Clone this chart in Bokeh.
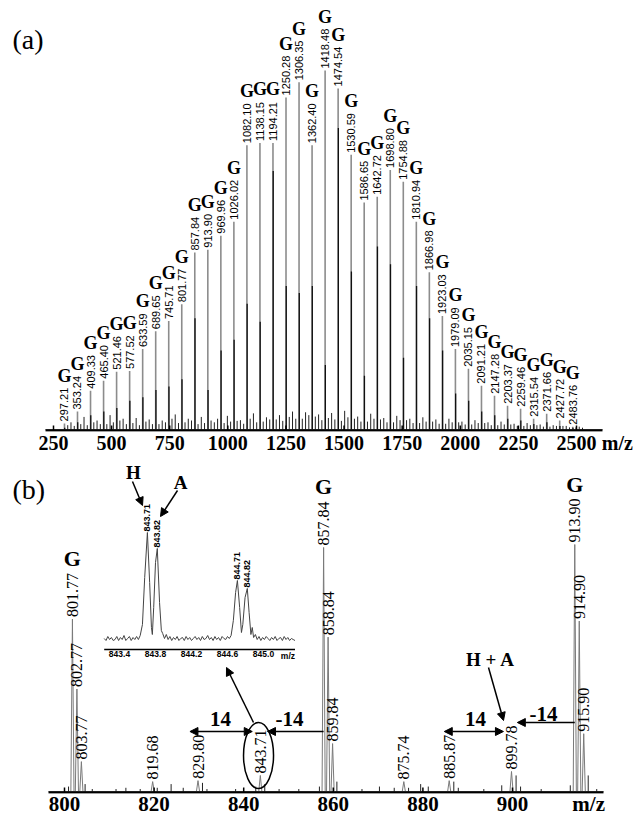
import numpy as np
from bokeh.plotting import figure
from bokeh.models import ColumnDataSource, FixedTicker, Range1d, Arrow, NormalHead
from bokeh.layouts import column
from bokeh.embed import file_html
from bokeh.resources import INLINE
from bokeh.core.properties import value

# ---------------- panel (a) data ----------------
a_mz = [297.21, 353.24, 409.33, 465.40, 521.46, 577.52, 633.59, 689.65, 745.71, 801.77,
        857.84, 913.90, 969.96, 1026.02, 1082.10, 1138.15, 1194.21, 1250.28, 1306.35, 1362.40,
        1418.48, 1474.54, 1530.59, 1586.65, 1642.72, 1698.80, 1754.88, 1810.94, 1866.98, 1923.03,
        1979.09, 2035.15, 2091.21, 2147.28, 2203.37, 2259.46, 2315.54, 2371.66, 2427.72, 2483.76]
a_labels = ["297.21", "353.24", "409.33", "465.40", "521.46", "577.52", "633.59", "689.65",
            "745.71", "801.77", "857.84", "913.90", "969.96", "1026.02", "1082.10", "1138.15",
            "1194.21", "1250.28", "1306.35", "1362.40", "1418.48", "1474.54", "1530.59",
            "1586.65", "1642.72", "1698.80", "1754.88", "1810.94", "1866.98", "1923.03",
            "1979.09", "2035.15", "2091.21", "2147.28", "2203.37", "2259.46", "2315.54",
            "2371.66", "2427.72", "2483.76"]
a_int = [1.7, 5.0, 10.8, 13.6, 16.1, 16.3, 22.4, 27.4, 30.2, 34.9,
         49.3, 50.1, 54.0, 57.9, 79.2, 79.8, 79.8, 92.5, 96.7, 79.2,
         100.0, 95.0, 76.5, 63.2, 64.8, 72.3, 69.0, 57.9, 43.8, 31.6,
         22.4, 16.9, 12.2, 9.4, 6.6, 5.8, 3.0, 4.4, 2.5, 0.8]
a_iso_mz = [298.2, 354.2, 410.3, 466.4, 522.5, 578.5, 634.6, 690.7, 746.7, 802.8,
            858.8, 914.9, 971.0, 1027.0, 1083.1, 1139.2, 1195.2, 1251.3, 1307.4, 1363.4,
            1419.5, 1475.5, 1531.6, 1587.7, 1643.7, 1699.8, 1755.9, 1811.9, 1868.0, 1924.0,
            1980.1, 2036.2, 2092.2, 2148.3, 2204.4, 2260.5, 2316.5, 2372.7, 2428.7, 2484.8]
a_iso_int = [0.5, 2.0, 4.0, 5.0, 6.0, 8.0, 9.0, 11.0, 12.0, 14.0,
             31.0, 11.0, 22.0, 25.0, 35.0, 30.0, 72.0, 40.0, 38.0, 40.0,
             18.0, 84.0, 44.0, 15.0, 51.0, 46.0, 20.0, 40.0, 31.0, 22.0,
             10.0, 8.0, 5.0, 4.0, 3.0, 2.5, 1.5, 2.0, 1.0, 0.5]
a_minor_mz = [311.2, 325.2, 339.3, 367.3, 381.3, 395.3, 423.4, 437.4, 451.4, 479.4, 493.4, 507.5,
              535.5, 549.5, 563.5, 591.5, 605.6, 619.6, 647.6, 661.6, 675.6, 703.7, 717.7, 731.7,
              759.7, 773.7, 787.8, 815.8, 829.8, 843.7, 871.9, 885.9, 899.8, 927.9, 941.9, 956.0,
              984.0, 998.0, 1012.0, 1040.0, 1054.1, 1068.1, 1096.1, 1110.1, 1124.2, 1152.2, 1166.2,
              1180.2, 1208.2, 1222.2, 1236.3, 1264.3, 1278.3, 1292.3, 1320.4, 1334.4, 1348.4,
              1376.4, 1390.4, 1404.5, 1432.5, 1446.5, 1460.5, 1488.6, 1502.6, 1516.6, 1544.6,
              1558.6, 1572.6, 1600.7, 1614.7, 1628.7, 1656.7, 1670.8, 1684.8, 1712.8, 1726.8,
              1740.9, 1768.9, 1782.9, 1796.9, 1825.0, 1839.0, 1853.0, 1881.0, 1895.0, 1909.0,
              1937.1, 1951.1, 1965.1, 1993.1, 2007.1, 2021.1, 2049.2, 2063.2, 2077.2, 2105.2,
              2119.2, 2133.3, 2161.3, 2175.3, 2189.3, 2217.4, 2231.4, 2245.4, 2273.5, 2287.5,
              2301.5, 2329.6, 2343.6, 2357.6, 2385.7, 2399.7, 2413.7, 2441.7, 2455.8, 2469.8,
              2497.8, 2511.8, 2525.8]
a_minor_int = [1.2, 2.0, 1.0, 1.5, 3.5, 1.2, 2.0, 2.5, 1.5, 1.5, 4.0, 2.0,
               2.5, 3.0, 1.5, 1.8, 3.2, 1.2, 2.2, 2.8, 1.5, 1.5, 2.5, 2.0,
               3.0, 4.2, 1.8, 2.0, 3.0, 2.5, 1.5, 3.5, 1.8, 2.5, 2.0, 3.0,
               1.8, 3.8, 2.2, 2.4, 2.6, 1.6, 3.0, 4.5, 2.0, 2.2, 3.4,
               2.8, 2.8, 4.0, 2.4, 3.5, 5.0, 3.0, 3.0, 4.8, 4.0,
               3.6, 4.2, 2.6, 3.2, 4.6, 2.8, 2.4, 5.2, 3.4, 3.0,
               3.6, 2.2, 2.2, 4.4, 3.0, 2.8, 3.2, 2.0, 2.0, 3.8,
               2.6, 2.6, 3.0, 1.8, 1.8, 3.4, 2.2, 2.2, 2.8, 1.6,
               1.6, 3.0, 2.0, 2.0, 2.2, 1.4, 1.4, 2.6, 1.8, 1.8,
               2.0, 1.2, 1.2, 2.2, 1.4, 1.4, 1.6, 1.0, 1.0, 1.8,
               1.2, 1.2, 1.4, 0.8, 0.8, 1.2, 1.0, 1.0, 1.0, 0.6,
               0.6, 0.8, 0.5]
a_ticks = [250, 500, 750, 1000, 1250, 1500, 1750, 2000, 2250, 2500]

# ---------------- panel (b) data ----------------
b_mz = [801.77, 802.77, 803.77, 819.68, 829.80, 843.71, 857.84, 858.84, 859.84,
        875.74, 885.87, 899.78, 913.90, 914.90, 915.90]
b_labels = ["801.77", "802.77", "803.77", "819.68", "829.80", "843.71", "857.84", "858.84",
            "859.84", "875.74", "885.87", "899.78", "913.90", "914.90", "915.90"]
b_int = [69.8, 41.5, 12.1, 4.0, 4.4, 6.5, 98.8, 62.5, 19.4, 4.0, 4.4, 8.1, 100.0, 69.0, 23.4]
b_g_mz = [801.77, 857.84, 913.90]
b_g_int = [69.8, 98.8, 100.0]
b_g_labels = ["801.77", "857.84", "913.90"]
b_minor_mz = [800.9, 804.6, 806.2, 811.5, 813.7, 816.9, 820.7, 823.8, 826.5, 830.8, 831.8,
              838.2, 842.7, 844.7, 847.9, 852.3, 856.9, 860.8, 866.4, 870.3, 873.6, 876.8,
              879.5, 881.2, 886.9, 887.9, 893.6, 897.6, 900.8, 901.8, 906.4, 912.9, 916.9, 918.8]
b_minor_int = [2.0, 3.0, 1.0, 1.0, 1.5, 1.0, 1.5, 3.0, 1.5, 3.5, 1.0,
               1.0, 2.0, 3.0, 1.0, 1.0, 2.0, 4.0, 1.0, 2.0, 1.5, 1.5,
               3.0, 2.0, 4.0, 1.5, 1.0, 2.5, 6.5, 2.0, 1.0, 2.5, 6.5, 1.0]
b_ticks = [800, 820, 840, 860, 880, 900]

# inset (profile around m/z 843-845)
inset_mz = [843.23, 843.25, 843.27, 843.29, 843.31, 843.33, 843.35, 843.37, 843.39, 843.41,
            843.43, 843.45, 843.47, 843.49, 843.51, 843.53, 843.55, 843.57, 843.59, 843.61,
            843.63, 843.655, 843.68, 843.71, 843.735, 843.755, 843.765, 843.78, 843.80, 843.82,
            843.845, 843.865, 843.88, 843.90, 843.92, 843.94, 843.96, 843.98, 844.00, 844.02,
            844.04, 844.06, 844.08, 844.10, 844.12, 844.14, 844.16, 844.18, 844.20, 844.22,
            844.24, 844.26, 844.28, 844.30, 844.32, 844.34, 844.36, 844.38, 844.40, 844.42,
            844.44, 844.46, 844.48, 844.50, 844.52, 844.54, 844.56, 844.58, 844.60, 844.62,
            844.64, 844.665, 844.69, 844.71, 844.735, 844.755, 844.77, 844.795, 844.82, 844.84,
            844.86, 844.875, 844.89, 844.91, 844.93, 844.95, 844.97, 844.99, 845.01, 845.03,
            845.05, 845.07, 845.09, 845.11, 845.13, 845.15, 845.17, 845.19, 845.21, 845.23,
            845.25, 845.27, 845.29, 845.31, 845.33, 845.35]
inset_int = [4, 2, 6, 3, 5, 2, 3, 6, 2, 5,
             3, 7, 2, 4, 6, 2, 5, 3, 6, 3,
             7, 18, 65, 110, 60, 15, 8, 35, 80, 94,
             40, 12, 9, 4, 8, 3, 6, 2, 5, 3,
             6, 2, 4, 5, 2, 6, 3, 5, 2, 4,
             6, 3, 5, 2, 6, 3, 4, 7, 3, 5,
             2, 6, 3, 5, 2, 6, 4, 3, 6, 4,
             7, 22, 50, 62, 35, 10, 18, 45, 54, 30,
             8, 15, 5, 8, 3, 6, 2, 5, 3, 6,
             4, 2, 5, 3, 6, 2, 4, 5, 2, 6,
             3, 5, 2, 4, 3, 2]
inset_peak_mz = [843.71, 843.82, 844.71, 844.82]
inset_peak_int = [110, 94, 62, 54]
inset_peak_labels = ["843.71", "843.82", "844.71", "844.82"]
inset_ticks = [843.4, 843.8, 844.2, 844.6, 845.0]
inset_tick_labels = ["843.4", "843.8", "844.2", "844.6", "845.0"]

SERIF = "Liberation Serif"
SANS = "Liberation Sans"
W = 641


def text_len(s, size, digit_w, dot_w):
    return sum(digit_w if c.isdigit() else dot_w for c in s) * size


def style_axis(ax, size, standoff):
    ax.axis_line_color = None
    ax.major_tick_line_color = None
    ax.minor_tick_line_color = None
    ax.major_tick_out = 0
    ax.major_tick_in = 0
    ax.minor_tick_out = 0
    ax.minor_tick_in = 0
    ax.axis_label = None
    ax.axis_label_standoff = 0
    ax.major_label_standoff = standoff
    ax.major_label_text_font = SERIF
    ax.major_label_text_font_style = "bold"
    ax.major_label_text_font_size = size
    ax.major_label_text_color = "black"
    ax.major_label_text_line_height = 1.0


# ---------------- panel (a) ----------------
A_FH, A_BB = 431, 26
A_PPU = 523.0 / 2250.0
A_X0 = 250 - 53.0 / A_PPU
A_PPP = 3.59
A_Y0 = -2.0 / A_PPP
A_MZ_TICK = 2676


def a_xd(px):
    return A_X0 + px / A_PPU


def a_yd(py):
    return A_Y0 + (A_FH - py) / A_PPP


pa = figure(frame_width=W, frame_height=A_FH, x_range=Range1d(A_X0, A_X0 + W / A_PPU),
            y_range=Range1d(A_Y0, A_Y0 + A_FH / A_PPP), toolbar_location=None,
            output_backend="svg", y_axis_location=None, min_border_left=0,
            min_border_right=0, min_border_top=0, min_border_bottom=A_BB,
            outline_line_color=None, background_fill_color="white", border_fill_color="white")
pa.grid.visible = False
pa.xaxis.ticker = FixedTicker(ticks=a_ticks + [A_MZ_TICK])
pa.xaxis.major_label_overrides = {A_MZ_TICK: "m/z"}
style_axis(pa.xaxis, "20px", 0)

a_lab_off = [-(2 + text_len(s, 11, 0.556, 0.278) + 2) for s in a_labels]
src_a = ColumnDataSource(dict(mz=a_mz, h=a_int, label=a_labels, g=["G"] * len(a_mz), goff=a_lab_off))

ax_y = A_Y0 + 1.0 / A_PPP
pa.segment(x0=a_xd(45), y0=0, x1=a_xd(602), y1=0, line_color="#777777", line_width=1)
pa.segment(x0="mz", y0=0, x1="mz", y1="h", source=src_a, line_color="#8c8c8c", line_width=1.6)
pa.segment(x0=a_iso_mz, y0=[0] * len(a_iso_mz), x1=a_iso_mz, y1=a_iso_int, line_color="#111111", line_width=1.3)
pa.segment(x0=a_minor_mz, y0=[0] * len(a_minor_mz), x1=a_minor_mz, y1=a_minor_int, line_color="#222222", line_width=1)
pa.segment(x0=a_xd(45), y0=ax_y, x1=a_xd(602), y1=ax_y, line_color="black", line_width=2.5)
pa.segment(x0=a_ticks, y0=[ax_y] * len(a_ticks), x1=a_ticks, y1=[ax_y + 5 / A_PPP] * len(a_ticks),
           line_color="black", line_width=1.5)
pa.text(x="mz", y="h", text="label", source=src_a, angle=np.pi / 2, y_offset=-2,
        text_align="left", text_baseline="middle", text_font=value(SANS),
        text_font_size="11px", text_color="black")
pa.text(x="mz", y="h", text="g", source=src_a, y_offset="goff", text_align="center",
        text_baseline="bottom", text_font=value(SERIF), text_font_style="bold",
        text_font_size="18px", text_color="black")
pa.text(x=[a_xd(12)], y=[a_yd(39)], text=["(a)"], text_align="left", text_baseline="middle",
        text_font=value(SERIF), text_font_size="28px", text_color="black")

# ---------------- panel (b) ----------------
Y_B = A_FH + A_BB
B_FH, B_BB = 793 - Y_B, 22
B_PPU = 4.48
B_X0 = 800 - 64.0 / B_PPU
B_PPP = 2.47
B_Y0 = -2.0 / B_PPP
B_MZ_TICK = 917

I_PPU = 90.0
I_X0 = 843.4 - 119.0 / I_PPU
I_PPP = 1.0
I_Y0 = -(B_FH - (642 - Y_B)) / I_PPP
I_AXIS_Y = -7.0


def b_xd(px):
    return B_X0 + px / B_PPU


def b_yd(py):
    return B_Y0 + (B_FH - (py - Y_B)) / B_PPP


pb = figure(frame_width=W, frame_height=B_FH, x_range=Range1d(B_X0, B_X0 + W / B_PPU),
            y_range=Range1d(B_Y0, B_Y0 + B_FH / B_PPP), toolbar_location=None,
            output_backend="svg", y_axis_location=None, min_border_left=0,
            min_border_right=0, min_border_top=0, min_border_bottom=B_BB,
            outline_line_color=None, background_fill_color="white", border_fill_color="white")
pb.extra_x_ranges = {"inset": Range1d(I_X0, I_X0 + W / I_PPU)}
pb.extra_y_ranges = {"inset": Range1d(I_Y0, I_Y0 + B_FH / I_PPP)}
pb.grid.visible = False
pb.xaxis.ticker = FixedTicker(ticks=b_ticks + [B_MZ_TICK])
pb.xaxis.major_label_overrides = {B_MZ_TICK: "m/z"}
style_axis(pb.xaxis, "21px", -2)

bx_y = B_Y0 + 1.0 / B_PPP
pb.segment(x0=b_xd(48), y0=0, x1=b_xd(603), y1=0, line_color="#777777", line_width=1)
pb.segment(x0=b_minor_mz, y0=[0] * len(b_minor_mz), x1=b_minor_mz, y1=b_minor_int,
           line_color="#222222", line_width=1)
b_xs = [[m - 0.35, m, m + 0.35] for m in b_mz]
b_ys = [[0, h, 0] for h in b_int]
pb.patches(xs=b_xs, ys=b_ys, fill_color="white", line_color="#7a7a7a", line_width=1)
pb.segment(x0=b_xd(48), y0=bx_y, x1=b_xd(603), y1=bx_y, line_color="black", line_width=2.5)
pb.segment(x0=b_ticks, y0=[bx_y] * len(b_ticks), x1=b_ticks, y1=[bx_y + 5 / B_PPP] * len(b_ticks),
           line_color="black", line_width=1.5)
pb.text(x=b_mz, y=b_int, text=b_labels, angle=np.pi / 2, y_offset=-2, text_align="left",
        text_baseline="middle", text_font=value(SERIF), text_font_size="16px", text_color="black")
b_g_off = [-(2 + text_len(s, 16, 0.5, 0.25) + 2) for s in b_g_labels]
pb.text(x=b_g_mz, y=b_g_int, text=["G"] * len(b_g_mz), y_offset=b_g_off, text_align="center",
        text_baseline="bottom", text_font=value(SERIF), text_font_style="bold",
        text_font_size="22px", text_color="black")
pb.text(x=[b_xd(12)], y=[b_yd(489)], text=["(b)"], text_align="left", text_baseline="middle",
        text_font=value(SERIF), text_font_size="28px", text_color="black")

# inset spectrum
IR = dict(x_range_name="inset", y_range_name="inset")
pb.line(x=inset_mz, y=inset_int, line_color="#444444", line_width=1, **IR)
pb.segment(x0=[inset_mz[0]], y0=[I_AXIS_Y], x1=[inset_mz[-1]], y1=[I_AXIS_Y], line_color="black",
           line_width=1.5, **IR)
pb.text(x=inset_ticks, y=[I_AXIS_Y] * len(inset_ticks), text=inset_tick_labels, y_offset=1,
        text_align="center", text_baseline="top", text_font=value(SANS), text_font_style="bold",
        text_font_size="8.5px", text_color="black", **IR)
pb.text(x=[inset_mz[-1]], y=[I_AXIS_Y], text=["m/z"], y_offset=1, text_align="right",
        text_baseline="top", text_font=value(SANS), text_font_style="bold",
        text_font_size="8.5px", text_color="black", **IR)
pb.text(x=inset_peak_mz, y=inset_peak_int, text=inset_peak_labels, angle=np.pi / 2, y_offset=-1,
        text_align="left", text_baseline="middle", text_font=value(SANS), text_font_style="bold",
        text_font_size="9px", text_color="black", **IR)

# annotations
txt_style = dict(text_font=value(SERIF), text_font_style="bold", text_color="black",
                 text_align="center", text_baseline="middle")
pb.text(x=[b_xd(133), b_xd(180)], y=[b_yd(472), b_yd(482)], text=["H", "A"],
        text_font_size="19px", **txt_style)
pb.text(x=[b_xd(220), b_xd(289), b_xd(475), b_xd(543)],
        y=[b_yd(718), b_yd(718), b_yd(718), b_yd(713)],
        text=["14", "-14", "14", "-14"], text_font_size="21px", **txt_style)
pb.text(x=[b_xd(490)], y=[b_yd(659)], text=["H + A"], text_font_size="19px", **txt_style)

pb.ellipse(x=[843.71 - 0.4], y=[b_yd(755)], width=[30], height=[66], width_units="screen",
           height_units="screen", fill_color=None, line_color="black", line_width=1.5)


def head():
    return NormalHead(size=8, fill_color="black", line_color="black")


arr_y = b_yd(731)
arrows = [
    dict(start=head(), x_start=829.80 - 1.8, y_start=arr_y, x_end=843.71 - 1.8, y_end=arr_y),
    dict(start=None, x_start=857.84, y_start=arr_y, x_end=843.71 + 1.6, y_end=arr_y),
    dict(start=head(), x_start=885.87 - 1.1, y_start=arr_y, x_end=899.78 - 1.8, y_end=arr_y),
    dict(start=None, x_start=913.90, y_start=b_yd(722), x_end=899.78 + 1.3, y_end=b_yd(722)),
    dict(start=None, x_start=b_xd(253), y_start=b_yd(722), x_end=b_xd(226), y_end=b_yd(667)),
    dict(start=None, x_start=b_xd(488), y_start=b_yd(667), x_end=b_xd(503), y_end=b_yd(720)),
    dict(start=None, x_start=b_xd(132), y_start=b_yd(481), x_end=b_xd(142), y_end=b_yd(505)),
    dict(start=None, x_start=b_xd(177), y_start=b_yd(490), x_end=b_xd(160), y_end=b_yd(516)),
]
for a in arrows:
    pb.add_layout(Arrow(end=head(), line_color="black", line_width=1.5, **a))

layout = column(pa, pb, spacing=0)
open("out.html", "w").write(file_html(layout, INLINE))
